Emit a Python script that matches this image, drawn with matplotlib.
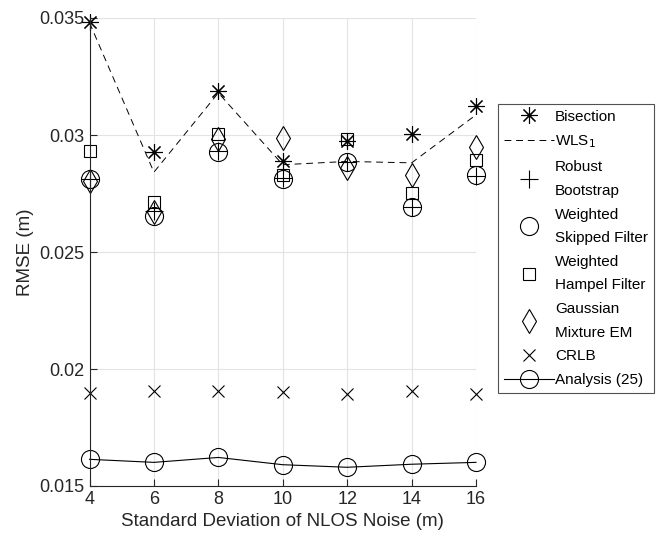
import numpy as np
import matplotlib
matplotlib.use("Agg")
import matplotlib.pyplot as plt

plt.rcParams["font.family"] = ["Liberation Sans", "DejaVu Sans"]

## data
noise_std = [4, 6, 8, 10, 12, 14, 16]
bisection = [0.03485, 0.02926, 0.03186, 0.02888, 0.02975, 0.03006, 0.03122]
wls1 = [0.03480, 0.02841, 0.03180, 0.02873, 0.02887, 0.02881, 0.03086]
robust_bootstrap = [0.02813, 0.02677, 0.02930, 0.02815, 0.02884, 0.02694, 0.02825]
weighted_skipped = [0.02813, 0.02655, 0.02926, 0.02810, 0.02884, 0.02694, 0.02827]
weighted_hampel = [0.02933, 0.02715, 0.03005, 0.02828, 0.02985, 0.02753, 0.02892]
gaussian_em = [0.02805, 0.02672, 0.02985, 0.02987, 0.02861, 0.02827, 0.02948]
crlb = [0.01897, 0.01905, 0.01904, 0.01900, 0.01894, 0.01906, 0.01895]
analysis_25 = [0.01614, 0.01601, 0.01622, 0.01591, 0.01580, 0.01593, 0.01601]

y_ticks = [0.015, 0.02, 0.025, 0.03, 0.035]
y_tick_labels = ["0.015", "0.02", "0.025", "0.03", "0.035"]
x_ticks = [4, 6, 8, 10, 12, 14, 16]

## plot
fig = plt.figure(figsize=(6.6, 5.48), dpi=100)
ax = fig.add_axes([89.5 / 660, 1 - 486 / 548, (476 - 89.5) / 660, (486 - 18) / 548])

mk = dict(linestyle="none", color="black", markerfacecolor="none",
	markeredgewidth=0.8, clip_on=False)
ax.plot(noise_std, bisection, marker=(8, 2, 0), markersize=12, label="Bisection", **mk)
ax.plot(noise_std, wls1, linestyle=(0, (7, 5)), color="black", linewidth=0.7,
	clip_on=False, label=r"WLS$_1$")
ax.plot(noise_std, robust_bootstrap, marker="+", markersize=13,
	label="Robust\nBootstrap", **mk)
ax.plot(noise_std, weighted_skipped, marker="o", markersize=13,
	label="Weighted\nSkipped Filter", **mk)
ax.plot(noise_std, weighted_hampel, marker="s", markersize=9,
	label="Weighted\nHampel Filter", **mk)
ax.plot(noise_std, gaussian_em, marker="d", markersize=12,
	label="Gaussian\nMixture EM", **mk)
ax.plot(noise_std, crlb, marker="x", markersize=9, label="CRLB", **mk)
ax.plot(noise_std, analysis_25, marker="o", markersize=13, color="black",
	linewidth=0.8, markerfacecolor="none", markeredgewidth=0.8, clip_on=False,
	label="Analysis (25)")

ax.set_xlim(4, 16)
ax.set_ylim(0.015, 0.035)
ax.set_xticks(x_ticks)
ax.set_yticks(y_ticks)
ax.set_yticklabels(y_tick_labels)
ax.tick_params(direction="in", length=5, width=0.8, labelsize=13, colors="#262626")
ax.spines["top"].set_visible(False)
ax.spines["right"].set_visible(False)
for s in ["left", "bottom"]:
	ax.spines[s].set_linewidth(0.8)
	ax.spines[s].set_color("#262626")
ax.grid(color="#e3e3e3", linewidth=0.8)
ax.set_axisbelow(True)
ax.set_xlabel("Standard Deviation of NLOS Noise (m)", fontsize=13.5, color="#262626")
ax.set_ylabel("RMSE (m)", fontsize=13.5, color="#262626", labelpad=4)

## legend
leg = ax.legend(
	loc="upper left",
	bbox_to_anchor=(498 / 660, 1 - 104 / 548),
	bbox_transform=fig.transFigure,
	fontsize=11,
	frameon=True,
	fancybox=False,
	borderaxespad=0,
	handlelength=3.3,
	handletextpad=0.05,
	labelspacing=0.65,
	borderpad=0.38,
	)
for t in leg.get_texts():
	t.set_linespacing(1.85)
leg.get_frame().set_edgecolor("#262626")
leg.get_frame().set_linewidth(0.8)

fig.savefig("out.png", dpi=100)
plt.close()
